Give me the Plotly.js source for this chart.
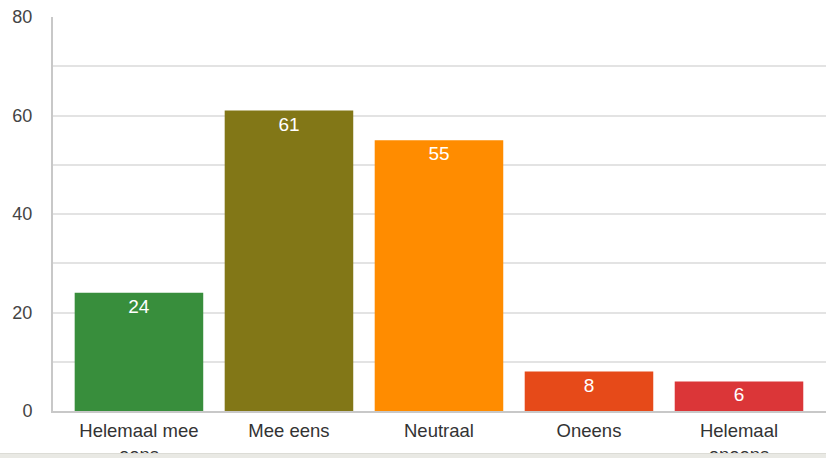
<!DOCTYPE html>
<html>
<head>
<meta charset="utf-8">
<script src="https://cdn.plot.ly/plotly-3.0.1.min.js"></script>
<style>
html,body{margin:0;padding:0;background:#fff;overflow:hidden;}
#wrap{position:relative;width:826px;height:458px;overflow:hidden;}
#chart{width:826px;height:458px;}
#strip{position:absolute;left:0;bottom:0;width:826px;height:4px;background:#e9e9e4;border-top:1px solid #dcdcd6;}
</style>
</head>
<body>
<div id="wrap">
<div id="chart"></div>
<div id="strip"></div>
</div>
<script>
const categories = ["Helemaal mee<br>eens", "Mee eens", "Neutraal", "Oneens", "Helemaal<br>oneens"];
const values = [24, 61, 55, 8, 6];
const barColors = ["#388e3c", "#827717", "#ff8c00", "#e64a19", "#db3638"];
const yTickVals = [0, 20, 40, 60, 80];
const yTickText = ["0", "20", "40", "60", "80"];

const trace = {
  type: "bar",
  x: categories,
  y: values,
  width: 0.857,
  marker: { color: barColors, line: { width: 0 } },
  text: values.map(String),
  textposition: "inside",
  insidetextanchor: "end",
  textangle: 0,
  textfont: { family: "Liberation Sans, Arial, sans-serif", size: 19, color: "#ffffff" },
  hoverinfo: "none",
  cliponaxis: false
};

const layout = {
  width: 826,
  height: 458,
  margin: { l: 53, r: 0, t: 17, b: 47, pad: 0 },
  paper_bgcolor: "#ffffff",
  plot_bgcolor: "#ffffff",
  showlegend: false,
  font: { family: "Liberation Sans, Arial, sans-serif", size: 18, color: "#333333" },
  xaxis: {
    type: "category",
    range: [-0.573, 4.58],
    showgrid: false,
    showline: true,
    linecolor: "#c8c8c8",
    linewidth: 2,
    ticks: "",
    ticklabelstandoff: 2,
    tickfont: { size: 18.5, color: "#333333" },
    fixedrange: true,
    zeroline: false
  },
  yaxis: {
    range: [0, 80],
    tickvals: yTickVals,
    ticktext: yTickText,
    showgrid: true,
    gridcolor: "#e3e3e3",
    gridwidth: 2,
    minor: { dtick: 10, showgrid: true, gridcolor: "#e3e3e3", gridwidth: 2 },
    showline: true,
    linecolor: "#c8c8c8",
    linewidth: 2,
    zeroline: false,
    ticks: "",
    ticklabelstandoff: 15,
    tickfont: { size: 18, color: "#444444" },
    fixedrange: true
  }
};

Plotly.newPlot("chart", [trace], layout, { staticPlot: true, displayModeBar: false });
</script>
</body>
</html>
